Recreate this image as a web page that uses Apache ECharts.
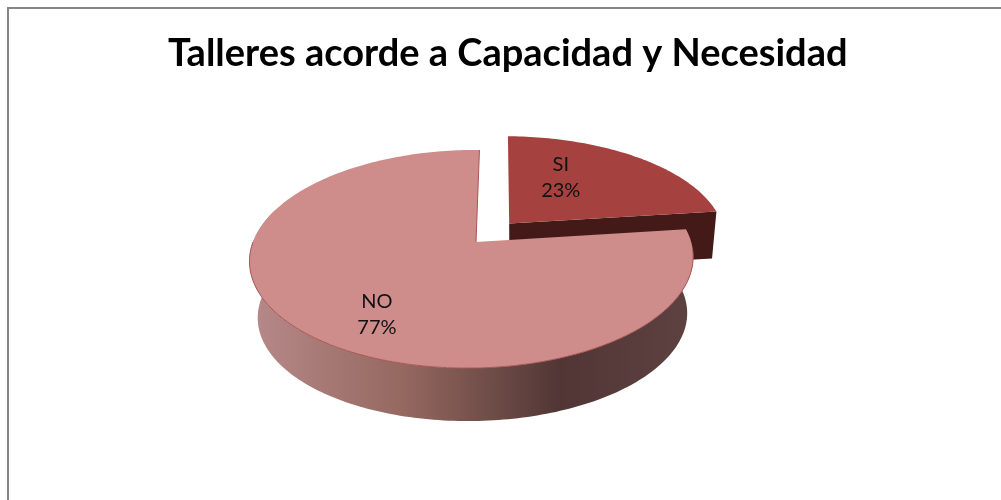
<!DOCTYPE html>
<html>
<head>
<meta charset="utf-8">
<title>Talleres acorde a Capacidad y Necesidad</title>
<script src="https://cdn.jsdelivr.net/npm/echarts@6/dist/echarts.min.js"></script>
<style>
  html, body { margin: 0; padding: 0; background: #fff; }
  #chart { width: 1001px; height: 500px; }
</style>
</head>
<body>
<div id="chart"></div>
<script>
var titleText = "Talleres acorde a Capacidad y Necesidad";
var categories = ["SI", "NO"];
var values = [23, 77];

// styles, one per slice
var topColors = ["#a5423f", "#ce8c8b"];
var explode = [0.24, 0];
var labelSpots = [[0.26, 0.49], [-0.395, -0.61]]; // in the plane of the disc

// perspective of the disc: a circle in (u, v) projected on the screen
var topPlanes = [
  { x: 474, y: 242, a: 224, b: 106.4, c: 4, k: 0.156, m: 0.018 },
  { x: 476, y: 242, a: 219, b: 106.4, c: 4, k: 0.156, m: 0.018 }
];
var bottomPlanes = [
  { x: 475, y: 288, a: 219, b: 103, c: 4, k: 0.156, m: 0.018 },
  { x: 477, y: 299, a: 212, b: 103, c: 4, k: 0.156, m: 0.018 }
];

function project(p, u, v) {
  var w = 1 + p.k * v + p.m * u;
  return [p.x + (p.a * u + p.c * v) / w, p.y - p.b * v / w];
}

function arc(p, from, to, du, dv) {
  var pts = [];
  var steps = Math.ceil((to - from) / 0.02);
  for (var i = 0; i <= steps; i++) {
    var t = from + (to - from) * i / steps;
    pts.push(project(p, Math.sin(t) + du, Math.cos(t) + dv));
  }
  return pts;
}

var total = values[0] + values[1];

function renderSlice(params, api) {
  var i = params.dataIndex;
  var before = 0;
  for (var j = 0; j < i; j++) before += values[j];
  var from = before / total * Math.PI * 2;
  var to = (before + values[i]) / total * Math.PI * 2;
  var mid = (from + to) / 2;
  var du = Math.sin(mid) * explode[i];
  var dv = Math.cos(mid) * explode[i];
  var top = topPlanes[i];
  var low = bottomPlanes[i];

  var topArc = arc(top, from, to, du, dv);
  var lowArc = arc(low, from, to, du, dv);
  var apex = project(top, du, dv);
  var lowApex = project(low, du, dv);
  var children = [];

  if (i === 0) {
    // the cut face that looks at the viewer
    children.push({
      type: "polygon",
      shape: { points: [apex, topArc[topArc.length - 1], lowArc[lowArc.length - 1], lowApex] },
      style: { fill: "#431a17" }
    });
  } else {
    // only the part of the rim facing the viewer, the back would show in the gap
    var wallEnd = Math.PI * 1.6;
    children.push({
      type: "polygon",
      shape: { points: arc(top, from, wallEnd, 0, 0).concat(arc(low, from, wallEnd, 0, 0).reverse()) },
      style: {
        fill: new echarts.graphic.LinearGradient(0, 0, 1, 0, [
          { offset: 0, color: "#b8898a" },
          { offset: 0.35, color: "#94685f" },
          { offset: 0.7, color: "#513635" },
          { offset: 1, color: "#5e4241" }
        ])
      }
    });
  }

  children.push({
    type: "polygon",
    shape: { points: [apex].concat(topArc) },
    style: { fill: topColors[i] }
  });

  if (i === 1) {
    // thin red edge on the front of the disc and on the cut next to the gap
    children.push({
      type: "polyline",
      shape: { points: arc(top, Math.PI * 0.52, Math.PI * 1.5, 0, 0) },
      style: { fill: "none", stroke: "#a85654", lineWidth: 1 }
    });
    children.push({
      type: "polyline",
      shape: { points: [apex, topArc[topArc.length - 1]] },
      style: { fill: "none", stroke: "#a85654", lineWidth: 1 }
    });
  }

  var spot = project(top, labelSpots[i][0] + du, labelSpots[i][1] + dv);
  children.push({
    type: "text",
    style: {
      x: spot[0],
      y: spot[1],
      text: categories[i] + "\n" + Math.round(values[i] / total * 100) + "%",
      fill: "#111",
      font: "20px Lato",
      lineHeight: 26,
      align: "center",
      verticalAlign: "middle"
    }
  });

  return { type: "group", children: children };
}

var dom = echarts.init(document.getElementById("chart"));
dom.setOption({
  animation: false,
  backgroundColor: "#fff",
  title: {
    text: titleText,
    left: 163,
    top: 30,
    textStyle: { fontFamily: "Lato", fontWeight: "bold", fontSize: 38, color: "#000" }
  },
  graphic: [
    {
      type: "rect",
      silent: true,
      shape: { x: 8, y: 8, width: 1100, height: 600 },
      style: { fill: "none", stroke: "#868686", lineWidth: 2 }
    }
  ],
  series: [
    {
      type: "custom",
      coordinateSystem: "none",
      data: values,
      renderItem: renderSlice
    }
  ]
});
</script>
</body>
</html>
